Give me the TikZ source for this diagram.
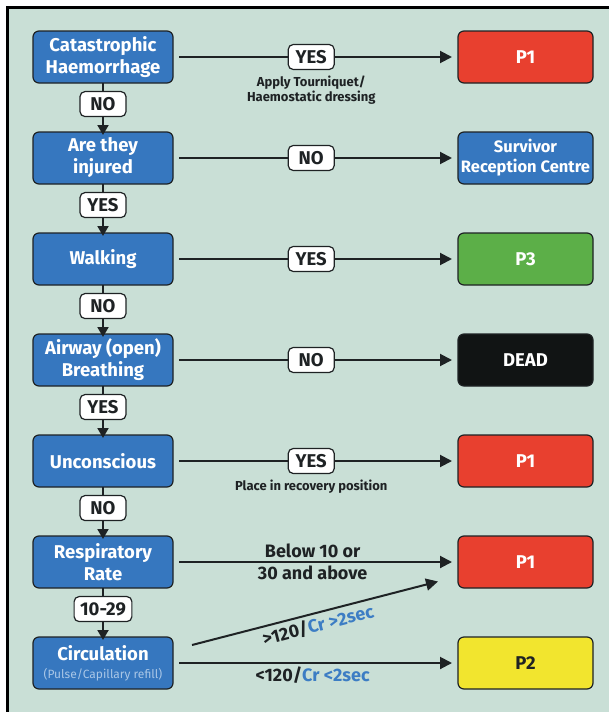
\documentclass[tikz,border=0pt]{standalone}
\usepackage{fontspec}
\setmainfont{Fira Sans}
\usetikzlibrary{positioning,arrows.meta}
\definecolor{bgfill}{HTML}{C9DFD6}
\definecolor{stepblue}{HTML}{3677BF}
\definecolor{boxline}{HTML}{1E2224}
\definecolor{textdark}{HTML}{1E2224}
\definecolor{p1red}{HTML}{E8402F}
\definecolor{p3green}{HTML}{5CAF48}
\definecolor{deadblack}{HTML}{111414}
\definecolor{p2yellow}{HTML}{F2E52E}
\definecolor{crblue}{HTML}{3C7DC4}
\definecolor{pulsegrey}{HTML}{A9C6E6}
\begin{document}
\begin{tikzpicture}[x=1pt,y=-1pt,
  stepbox/.style={draw=boxline,fill=stepblue,text=white,rounded corners=6pt,line width=1.2pt,
    minimum width=140pt,minimum height=52pt,align=center,inner sep=2pt,outer sep=0pt,
    font=\bfseries\fontsize{18.5}{22}\selectfont},
  resbox/.style={draw=boxline,text=white,rounded corners=6pt,line width=1.2pt,
    minimum width=135pt,minimum height=52pt,align=center,inner sep=2pt,outer sep=0pt,
    font=\bfseries\fontsize{18.5}{20}\selectfont},
  pill/.style={draw=boxline,fill=white,text=textdark,rounded corners=5pt,line width=1.2pt,
    minimum height=25pt,minimum width=46pt,inner xsep=6pt,inner ysep=2pt,
    font=\bfseries\fontsize{18.5}{20}\selectfont},
  note/.style={text=textdark,align=center,inner sep=2pt,font=\bfseries\fontsize{13}{15}\selectfont},
  lab/.style={text=textdark,inner sep=3pt,font=\bfseries\fontsize{18}{20}\selectfont},
  go/.style={line width=2pt,draw=textdark,-{Triangle[length=12pt,width=12pt]}},
  down/.style={line width=2pt,draw=textdark,-{Triangle[length=10pt,width=11pt]},shorten >=-3pt},
  across/.style={go,shorten <=6pt,shorten >=6pt}
]
\useasboundingbox (0,0) rectangle (609,712);
\fill[bgfill] (7,7) rectangle (609,712);
\draw[line width=3pt] (7,712) -- (7,7) -- (609,7);

% triage steps
\node[stepbox] (cat) at (103,57) {Catastrophic\\Haemorrhage};
\node[stepbox,below=49pt of cat] (inj) {Are they\\injured};
\node[stepbox,below=49pt of inj] (walk) {Walking};
\node[stepbox,below=49pt of walk] (air) {Airway (open)\\Breathing};
\node[stepbox,below=49pt of air] (unc) {Unconscious};
\node[stepbox,below=49pt of unc] (resp) {Respiratory\\Rate};
\node[stepbox,below=49pt of resp,font=\bfseries\fontsize{18.5}{18}\selectfont] (circ)
  {Circulation\\{\color{pulsegrey}\mdseries\fontsize{12}{13}\selectfont (Pulse/Capillary refill)}};

% outcomes
\node[resbox,fill=p1red,right=285pt of cat] (p1a) {P1};
\node[resbox,fill=stepblue,right=285pt of inj,font=\bfseries\fontsize{16.5}{20}\selectfont] (src) {Survivor\\Reception Centre};
\node[resbox,fill=p3green,right=285pt of walk] (p3) {P3};
\node[resbox,fill=deadblack,right=285pt of air] (dead) {DEAD};
\node[resbox,fill=p1red,right=285pt of unc] (p1b) {P1};
\node[resbox,fill=p1red,right=285pt of resp] (p1c) {P1};
\node[resbox,fill=p2yellow,text=textdark,right=285pt of circ] (p2) {P2};

% down the column
\draw[down] (cat) -- node[pill,pos=.43] (n1) {NO} (inj);
\draw[down] (inj) -- node[pill,pos=.43] (y2) {YES} (walk);
\draw[down] (walk) -- node[pill,pos=.43] (n3) {NO} (air);
\draw[down] (air) -- node[pill,pos=.43] (y4) {YES} (unc);
\draw[down] (unc) -- node[pill,pos=.43] (n5) {NO} (resp);
\draw[down] (resp) -- node[pill,pos=.43] (r6) {10-29} (circ);

% across to the outcomes
\draw[across] (cat) -- node[pill,pos=.485] (y1) {YES} (p1a);
\node[note,below=4pt of y1] (tq) {Apply Tourniquet/\\Haemostatic dressing};
\draw[across] (inj) -- node[pill,pos=.485] (n2) {NO} (src);
\draw[across] (walk) -- node[pill,pos=.485] (y3) {YES} (p3);
\draw[across] (air) -- node[pill,pos=.485] (n4) {NO} (dead);
\draw[across] (unc) -- node[pill,pos=.485] (y5) {YES} (p1b);
\node[note,below=4pt of y5] (rec) {Place in recovery position};
\draw[across] (resp) -- node[lab,pos=.49,above] (lo) {Below 10 or}
  node[lab,pos=.49,below] (hi) {30 and above} (p1c);

\coordinate (cs) at ([xshift=19pt,yshift=18pt]circ.east);
\coordinate (ce) at ([xshift=-20pt,yshift=-19.5pt]p1c.west);
\draw[go] (cs) -- node[lab,sloped,below,pos=.5,inner sep=3pt] (fast) {>120/\textcolor{crblue}{Cr >2sec}} (ce);
\draw[across] (circ) -- node[lab,pos=.49,below] (slow) {<120/\textcolor{crblue}{Cr <2sec}} (p2);
\end{tikzpicture}
\end{document}
